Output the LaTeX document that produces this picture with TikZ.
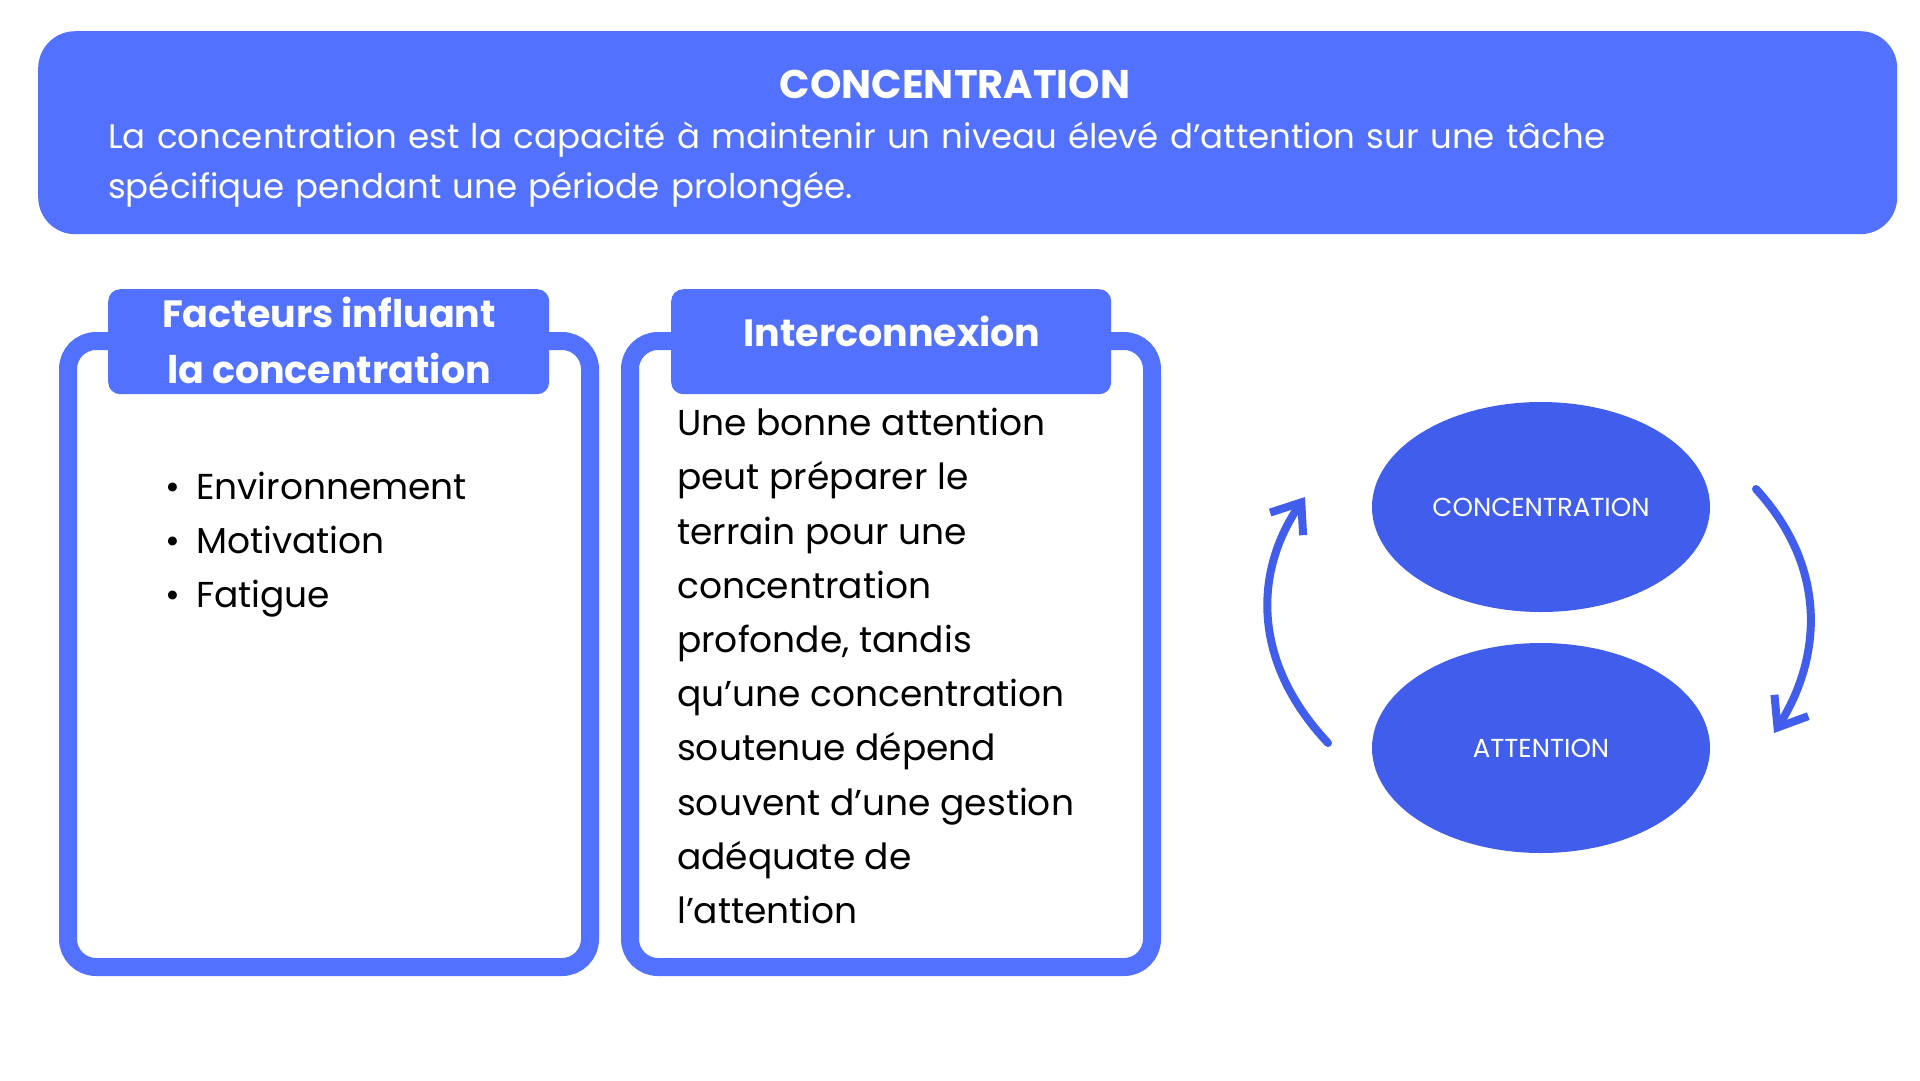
\documentclass[tikz,border=0pt]{standalone}
\usepackage{fontspec}
\setmainfont{Poppins}
\usetikzlibrary{arrows.meta,shapes.geometric}
\definecolor{bl}{HTML}{5271FF}
\definecolor{el}{HTML}{405EEB}
\begin{document}
\begin{tikzpicture}[x=1pt,y=-1pt,
  frame/.style={draw=bl,line width=18pt,rounded corners=28pt},
  tab/.style={fill=bl,rounded corners=12pt},
  ell/.style={ellipse,fill=el,minimum width=338pt,minimum height=210pt,inner sep=0pt,text=white,font=\fontsize{26}{30}\selectfont},
  arr/.style={draw=el,line width=8pt,line cap=round,-{Straight Barb[length=26pt,width=40pt,line width=8pt]}}]
\path[use as bounding box] (0,0) rectangle (1920,1080);
\node[fill=bl,rounded corners=37pt,minimum width=1859pt,minimum height=203pt,anchor=north west] (ban) at (38,31) {};
\node[text=white,font=\fontsize{40}{48}\selectfont\bfseries] (t) at (955,84) {CONCENTRATION};
\node[text=white,anchor=north west,align=left,text width=1700pt,font=\fontsize{34}{50}\selectfont,inner sep=0pt] (d) at (108,122) {La concentration est la capacité à maintenir un niveau élevé d'attention sur une tâche\\spécifique pendant une période prolongée.};
% left box
\draw[frame] (68,341) rectangle (590,967);
\node[tab,minimum width=441pt,minimum height=105pt,anchor=north west] (lt) at (108,289) {};
\node[text=white,align=center,font=\fontsize{38}{56}\selectfont\bfseries] (ltt) at (329,340) {Facteurs influant\\la concentration};
\node[anchor=north west,align=left,font=\fontsize{36}{54}\selectfont,inner sep=0pt] (lst) at (165,472) {•\hspace{16pt}Environnement\\•\hspace{16pt}Motivation\\•\hspace{16pt}Fatigue};
% middle box
\draw[frame] (630,341) rectangle (1152,967);
\node[tab,minimum width=440pt,minimum height=105pt,anchor=north west] (mt) at (671,289) {};
\node[text=white,font=\fontsize{38}{46}\selectfont\bfseries] (mtt) at (892,331) {Interconnexion};
\node[anchor=north west,align=left,font=\fontsize{36}{54.2}\selectfont,inner sep=0pt] (mtx) at (677,408) {Une bonne attention\\peut préparer le\\terrain pour une\\concentration\\profonde, tandis\\qu'une concentration\\soutenue dépend\\souvent d'une gestion\\adéquate de\\l'attention};
% ellipses
\node[ell] (c) at (1541,507) {CONCENTRATION};
\node[ell] (a) at (1541,748) {ATTENTION};
\coordinate (l0) at (1328,743);
\coordinate (l1) at (1305,497);
\coordinate (r0) at (1756,489);
\coordinate (r1) at (1774,733);
\draw[arr] (l0) .. controls (1250,660) and (1255,570) .. (l1);
\draw[arr] (r0) .. controls (1830,570) and (1820,660) .. (r1);
\end{tikzpicture}
\end{document}
